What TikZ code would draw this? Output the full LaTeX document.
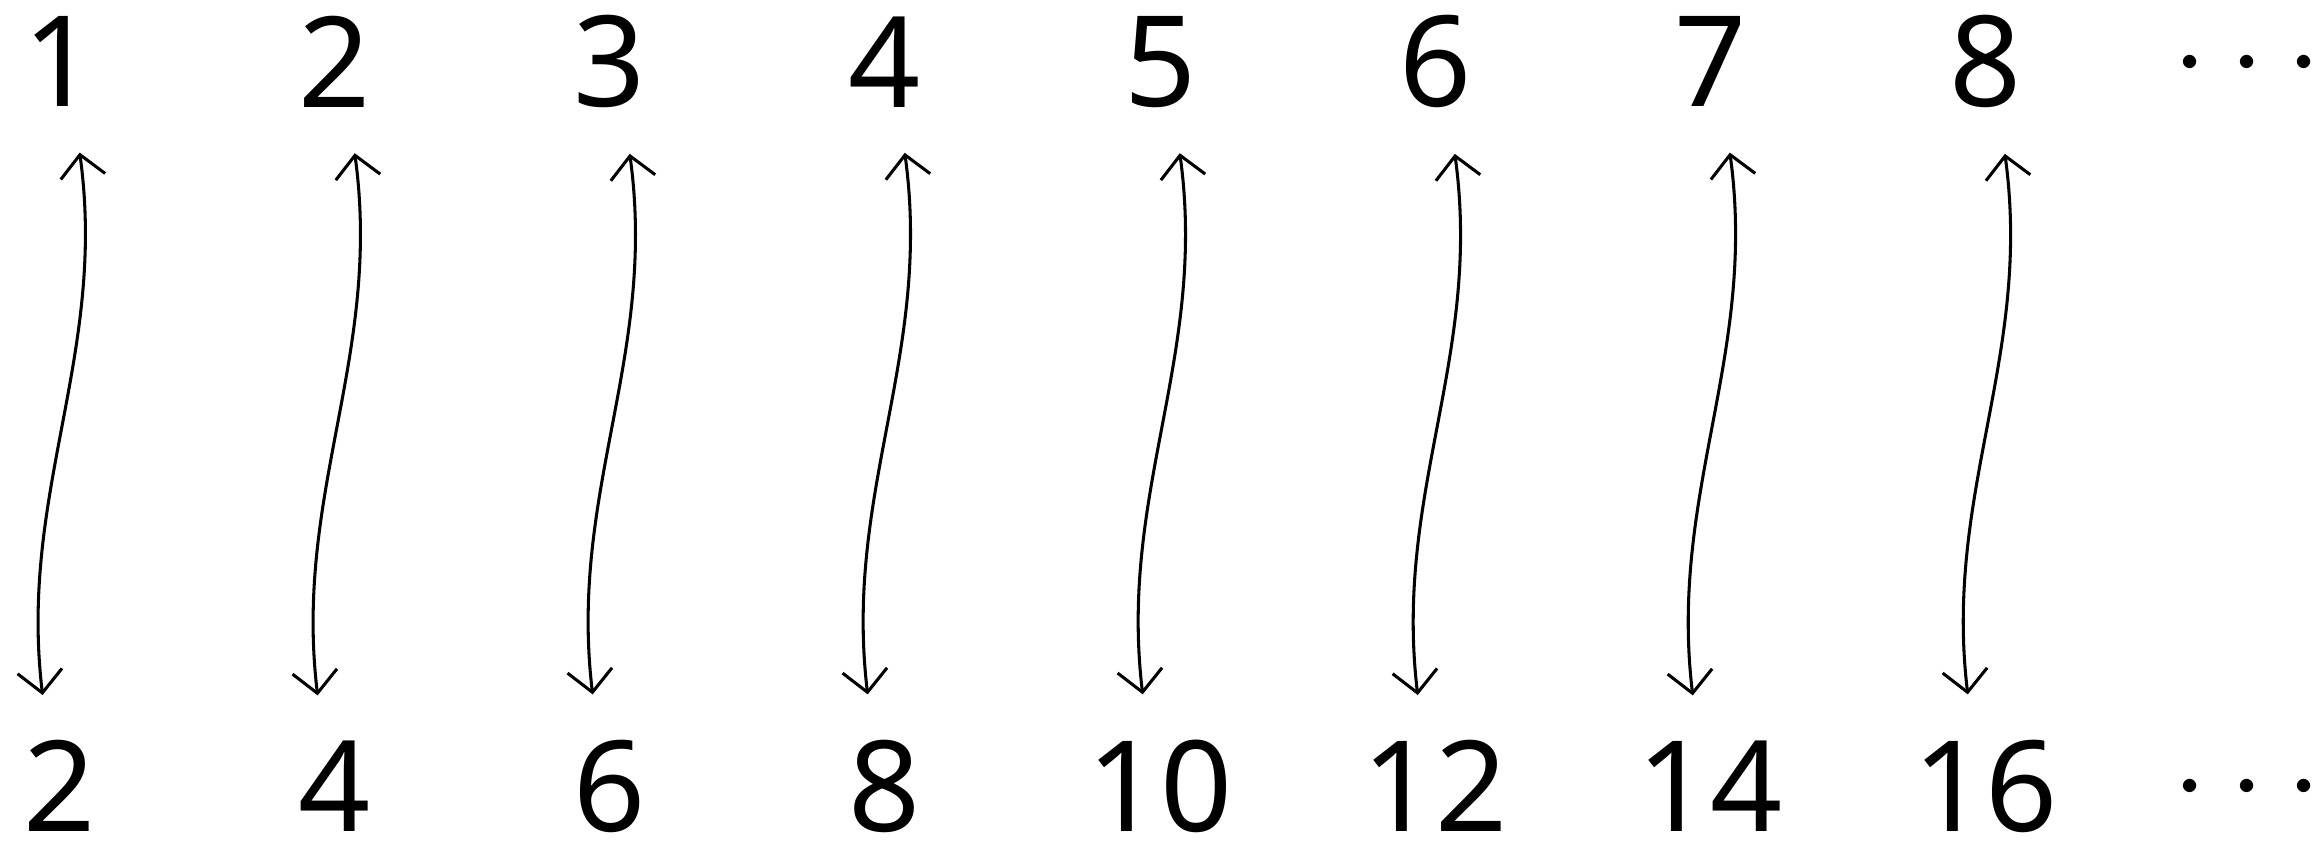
\RequirePackage{fix-cm}
\documentclass[tikz,border=0pt]{standalone}
\usepackage{fontspec}
\setmainfont{Noto Sans}
\usepackage{tikz}
\usetikzlibrary{arrows.meta}
\newcommand\dotsrow{\raisebox{3.3pt}{$\cdot$\hspace{5.4pt}$\cdot$\hspace{5.4pt}$\cdot$}}

\begin{document}
\begin{tikzpicture}[
  num/.style={font=\fontsize{31}{31}\selectfont, inner sep=0pt},
  link/.style={{Straight Barb[length=5.4pt,width=11pt]}-{Straight Barb[length=5.4pt,width=11pt]}, line width=0.75pt}]
  \useasboundingbox (0,0) rectangle (20,-7.263);
  % n on top, 2n below
  \foreach \i [evaluate=\i as \j using int(2*\i)] in {1,...,8}{
    \node[num] (t\i) at ({0.518+2.375*(\i-1)},-0.535) {\i};
    \node[num] (b\i) at ({0.518+2.375*(\i-1)},-6.79) {\j};
    \draw[link] ([xshift=0.17cm,yshift=-11pt]t\i.south) .. controls +(0.24,-1.75) and +(-0.21,1.75) .. ([xshift=-0.15cm,yshift=11pt]b\i.north);
  }
  \node[num,anchor=base] (tdots) at (t8.base -| 19.405,0) {\dotsrow};
  \node[num,anchor=base] (bdots) at (b8.base -| 19.405,0) {\dotsrow};
\end{tikzpicture}
\end{document}
